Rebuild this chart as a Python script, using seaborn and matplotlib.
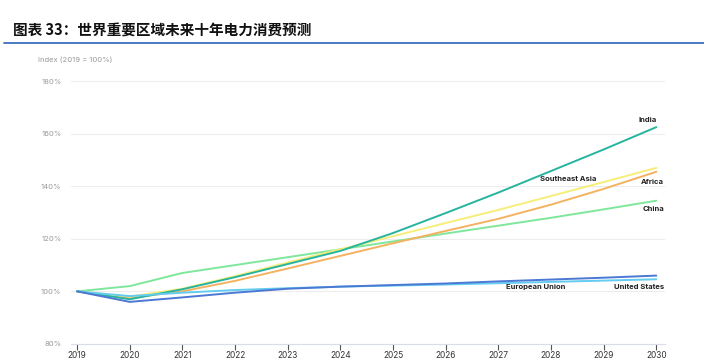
import matplotlib
matplotlib.use("Agg")
import matplotlib.pyplot as plt
import seaborn as sns
import pandas as pd

years = list(range(2019, 2031))
india = [100, 97.0, 100.8, 105.4, 110.4, 115.4, 122.2, 129.8, 137.6, 145.8, 154, 162.5]
se_asia = [100, 98.0, 101, 105.8, 111, 116, 121, 126, 131, 136.3, 141.6, 147]
africa = [100, 97.5, 100, 104, 108.7, 113.5, 118.3, 123, 127.6, 133, 139, 145.5]
china = [100, 102, 107, 110, 113, 116, 119, 122, 125, 128, 131.2, 134.5]
eu = [100, 96.0, 97.7, 99.5, 101, 101.8, 102.4, 103, 103.8, 104.5, 105.2, 106]
us = [100, 98.2, 99.5, 100.5, 101.2, 101.8, 102.2, 102.6, 103.1, 103.6, 104.1, 104.6]

series = {
    "India": india,
    "Southeast Asia": se_asia,
    "Africa": africa,
    "China": china,
    "European Union": eu,
    "United States": us,
}
colors = {
    "India": "#27B49F",
    "Southeast Asia": "#F6EE78",
    "Africa": "#F4B261",
    "China": "#7FE79B",
    "European Union": "#4B78D3",
    "United States": "#64CBF1",
}
yticks = [80, 100, 120, 140, 160, 180]
ytick_labels = ["80%", "100%", "120%", "140%", "160%", "180%"]

rows = []
for name, vals in series.items():
    for y, v in zip(years, vals):
        rows.append({"year": y, "value": v, "region": name})
df = pd.DataFrame(rows)

sns.set_style("white")
plt.rcParams["font.family"] = ["Inter", "DejaVu Sans"]

fig = plt.figure(figsize=(7.04, 3.59), dpi=100)
ax = fig.add_axes([0.101, 0.042, 0.844, 0.732])

order = ["China", "Africa", "Southeast Asia", "India", "United States", "European Union"]
sns.lineplot(data=df, x="year", y="value", hue="region", hue_order=order,
             palette=colors, linewidth=1.4, ax=ax, legend=False)

ax.set_xlim(2018.886, 2030.17)
ax.set_ylim(80, 180)
ax.set_yticks(yticks)
ax.set_yticklabels(ytick_labels)
ax.set_xticks(years)
ax.set_xticklabels([str(y) for y in years])
ax.set_xlabel("")
ax.set_ylabel("")
ax.grid(axis="y", color="#EDEDED", linewidth=0.8)
ax.set_axisbelow(True)
for s in ["top", "right", "left"]:
    ax.spines[s].set_visible(False)
ax.spines["bottom"].set_color("#D8DCEB")
ax.spines["bottom"].set_linewidth(0.8)
ax.tick_params(axis="y", length=0, labelsize=5.5, labelcolor="#9A9A9A", pad=7)
ax.tick_params(axis="x", direction="out", length=4, width=0.8, color="#555555",
               labelsize=6, labelcolor="#333333", pad=1, bottom=True)

lab_kw = dict(fontsize=5.5, fontweight="bold", color="#222222", ha="right", va="center")
ax.text(2030.0, 165.2, "India", **lab_kw)
ax.text(2028.86, 142.6, "Southeast Asia", **lab_kw)
ax.text(2030.15, 141.8, "Africa", **lab_kw)
ax.text(2030.15, 131.5, "China", **lab_kw)
ax.text(2028.27, 101.5, "European Union", **lab_kw)
ax.text(2030.15, 101.7, "United States", **lab_kw)

fig.text(38 / 704, 1 - 60 / 359, "Index (2019 = 100%)", fontsize=5.5, color="#9A9A9A",
         ha="left", va="center")

fig.text(13 / 704, 1 - 30 / 359, "图表 33：世界重要区域未来十年电力消费预测",
         fontsize=10.5, fontweight="bold", color="#111111", ha="left", va="center",
         family=["Noto Sans CJK SC", "DejaVu Sans"])
fig.add_artist(plt.Line2D([4 / 704, 1.0], [1 - 43 / 359, 1 - 43 / 359],
                          color="#3B6EBF", linewidth=1.3, transform=fig.transFigure))

fig.savefig("out.png", dpi=100, facecolor="white")
